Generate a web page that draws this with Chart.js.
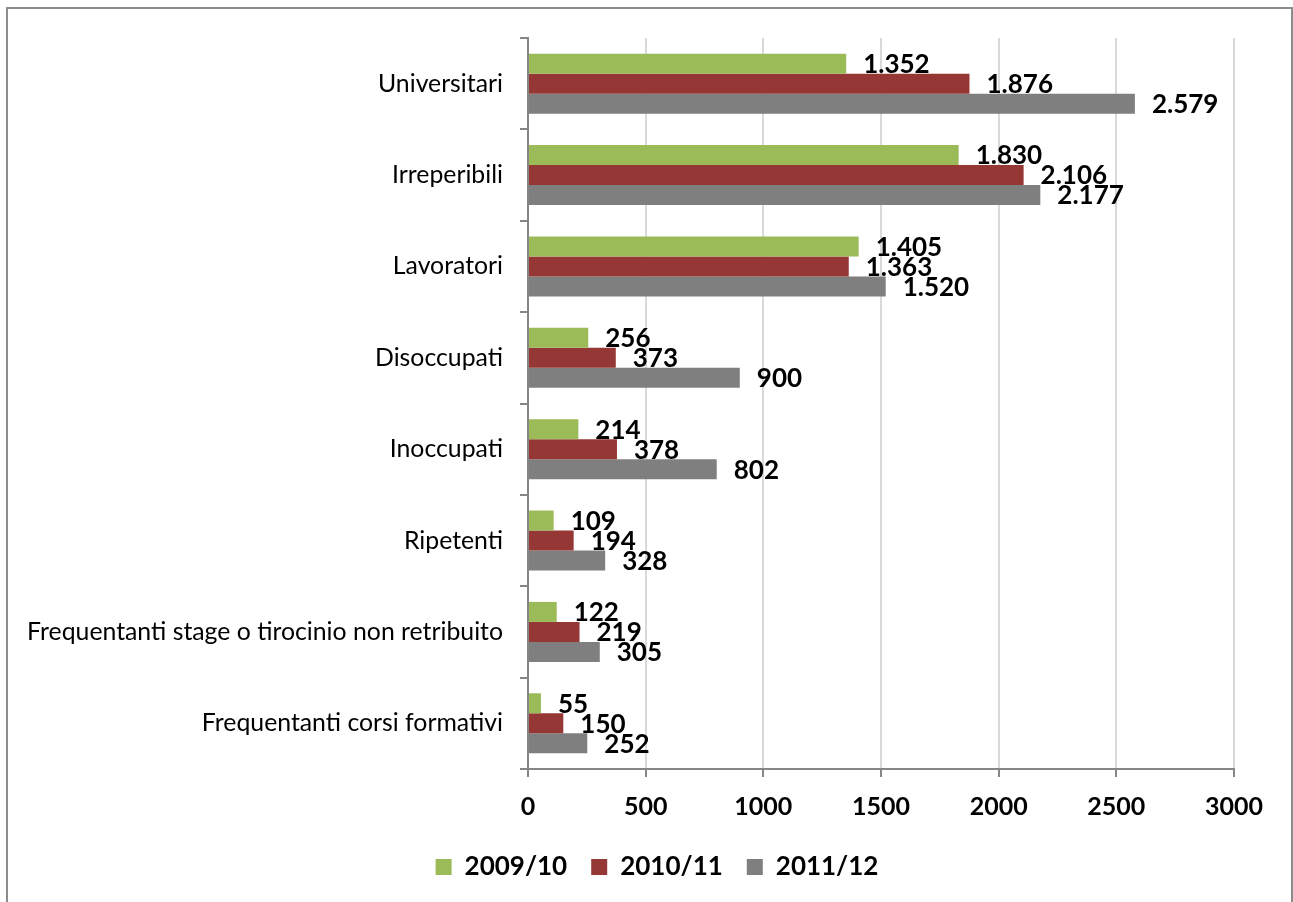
<!DOCTYPE html>
<html>
<head>
<meta charset="utf-8">
<script src="https://cdn.jsdelivr.net/npm/chart.js@4.4.1/dist/chart.umd.min.js"></script>
<style>
  html, body { margin: 0; padding: 0; background: #fff; }
  #wrap { position: relative; width: 1293px; height: 902px; overflow: hidden; }
  #frame { position: absolute; left: 6px; top: 7px; width: 1287px; height: 900px;
           border: 2px solid #8c8c8c; border-bottom: none; box-sizing: border-box; pointer-events: none; }
  canvas { position: absolute; left: 0; top: 0; }
</style>
</head>
<body>
<div id="wrap">
  <canvas id="chart" width="1293" height="902"></canvas>
  <div id="frame"></div>
</div>
<script>
// Categories (top to bottom)
const categories = [
  'Universitari',
  'Irreperibili',
  'Lavoratori',
  'Disoccupati',
  'Inoccupati',
  'Ripetenti',
  'Frequentanti stage o tirocinio non retribuito',
  'Frequentanti corsi formativi'
];

// Values per school year
const seriesNames = ['2009/10', '2010/11', '2011/12'];
const values0910 = [1352, 1830, 1405, 256, 214, 109, 122, 55];
const values1011 = [1876, 2106, 1363, 373, 378, 194, 219, 150];
const values1112 = [2579, 2177, 1520, 900, 802, 328, 305, 252];

// Value axis ticks
const xTicks = [0, 500, 1000, 1500, 2000, 2500, 3000];

const colors = ['#9bbb59', '#953735', '#7f7f7f'];
const FONT = 'Lato, Carlito, Calibri, sans-serif';

// Italian thousands separator: 1352 -> 1.352
function fmtIt(v) {
  return String(v).replace(/\B(?=(\d{3})+(?!\d))/g, '.');
}

// Value labels to the right of each bar
const valueLabels = {
  id: 'valueLabels',
  afterDatasetsDraw(chart) {
    const ctx = chart.ctx;
    ctx.save();
    ctx.font = 'bold 26px ' + FONT;
    ctx.fillStyle = '#000';
    ctx.textAlign = 'left';
    ctx.textBaseline = 'middle';
    chart.data.datasets.forEach((ds, di) => {
      const meta = chart.getDatasetMeta(di);
      meta.data.forEach((bar, i) => {
        ctx.fillText(fmtIt(ds.data[i]), bar.x + 17, bar.y + 1);
      });
    });
    ctx.restore();
  }
};

// Shift the legend row to the right of the default centre
const legendShift = {
  id: 'legendShift',
  afterLayout(chart) {
    const lg = chart.legend;
    if (lg) { lg.left += 40; lg.right += 40; }
  }
};

new Chart(document.getElementById('chart'), {
  type: 'bar',
  data: {
    labels: categories,
    datasets: [
      { label: seriesNames[0], data: values0910, backgroundColor: colors[0] },
      { label: seriesNames[1], data: values1011, backgroundColor: colors[1] },
      { label: seriesNames[2], data: values1112, backgroundColor: colors[2] }
    ]
  },
  options: {
    indexAxis: 'y',
    responsive: false,
    animation: false,
    devicePixelRatio: 1,
    layout: { padding: { top: 38, right: 59, bottom: 12, left: 0 } },
    datasets: {
      bar: { categoryPercentage: 0.6575, barPercentage: 1.0, borderWidth: 0 }
    },
    scales: {
      x: {
        min: 0,
        max: 3000,
        afterBuildTicks(scale) { scale.ticks = xTicks.map(v => ({ value: v })); },
        afterFit(scale) { scale.height = 61; },
        grid: { color: '#d9d9d9', lineWidth: 2, tickLength: 8, tickColor: '#868686', tickWidth: 2 },
        border: { color: '#868686', width: 2 },
        ticks: {
          color: '#000',
          font: { family: FONT, size: 25, weight: 'bold' },
          padding: 15,
          maxRotation: 0,
          callback: (v) => String(v)
        }
      },
      y: {
        afterFit(scale) { scale.width = 528; },
        grid: { offset: true, drawOnChartArea: false, tickLength: 8, color: '#868686', lineWidth: 2 },
        border: { color: '#868686', width: 2 },
        ticks: { color: '#000', font: { family: FONT, size: 24.8 }, padding: 17, autoSkip: false }
      }
    },
    plugins: {
      legend: {
        position: 'bottom',
        labels: {
          color: '#000',
          font: { family: FONT, size: 26, weight: 'bold' },
          boxWidth: 16,
          boxHeight: 16,
          padding: 24
        }
      },
      tooltip: { enabled: false }
    }
  },
  plugins: [valueLabels, legendShift]
});
</script>
</body>
</html>
